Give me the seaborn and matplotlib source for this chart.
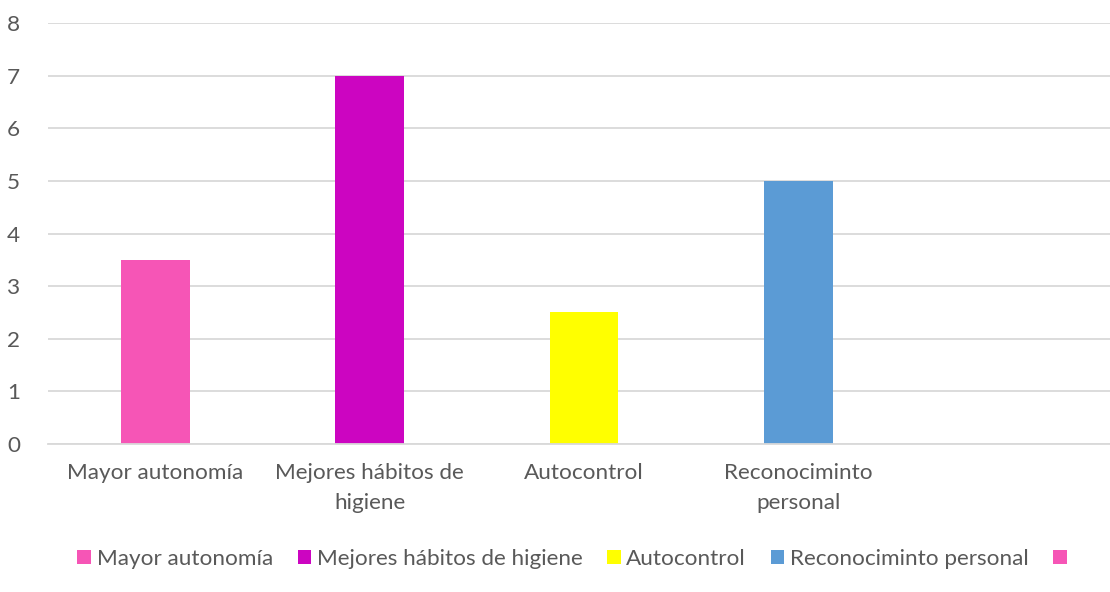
import matplotlib
matplotlib.use("Agg")
import matplotlib.pyplot as plt
from matplotlib.patches import Patch
import seaborn as sns
import numpy as np
import pandas as pd

categories = ["Mayor autonomía", "Mejores hábitos de higiene", "Autocontrol",
              "Reconocimint" + "o personal", ""]
tick_labels = ["Mayor autonomía", "Mejores hábitos de\nhigiene", "Autocontrol",
               "Reconocimint" + "o\npersonal", ""]
values = [3.5, 7.0, 2.5, 5.0, np.nan]
colors = ["#F655B6", "#CC05C1", "#FFFF00", "#5B9BD5", "#F655B6"]
legend_labels = ["Mayor autonomía", "Mejores hábitos de higiene", "Autocontrol",
                 "Reconocimint" + "o personal", ""]

sns.set_theme(style="white")
plt.rcParams["font.family"] = ["Lato", "DejaVu Sans"]
txt = "#595959"
fs = 16.2

df = pd.DataFrame({"cat": categories, "val": values})

fig = plt.figure(figsize=(11.1, 5.92), dpi=100)
ax = fig.add_axes([48 / 1110, 148 / 592, (1120 - 48) / 1110, (444 - 23) / 592])

sns.barplot(data=df, x="cat", y="val", hue="cat", order=categories,
            hue_order=categories, palette=dict(zip(categories, colors)),
            width=0.32, linewidth=0, legend=False, ax=ax, errorbar=None,
            saturation=1)

ax.set_xlim(-0.5, 4.5)
ax.set_ylim(0, 8)
ax.set_yticks(range(0, 9))
ax.yaxis.grid(True, color="#D9D9D9", linewidth=1.3)
ax.set_axisbelow(True)
for s in ["top", "right", "left"]:
    ax.spines[s].set_visible(False)
ax.spines["bottom"].set_color("#D9D9D9")
ax.spines["bottom"].set_linewidth(1.3)
ax.set_xlabel("")
ax.set_ylabel("")
ax.set_xticks(range(5))
ax.set_xticklabels(tick_labels, color=txt, fontsize=fs, linespacing=1.6)
ax.tick_params(axis="x", length=0, pad=14)
ax.tick_params(axis="y", length=0, pad=20, labelcolor=txt, labelsize=fs)

handles = [Patch(facecolor=c, edgecolor="none") for c in colors]
fig.legend(handles, legend_labels, ncol=5, loc="center", bbox_to_anchor=(0.518, 33 / 592),
           frameon=False, fontsize=fs, labelcolor=txt, handlelength=0.6, handleheight=0.6,
           handletextpad=0.25, columnspacing=1.1)

fig.savefig("out.png", dpi=100)
